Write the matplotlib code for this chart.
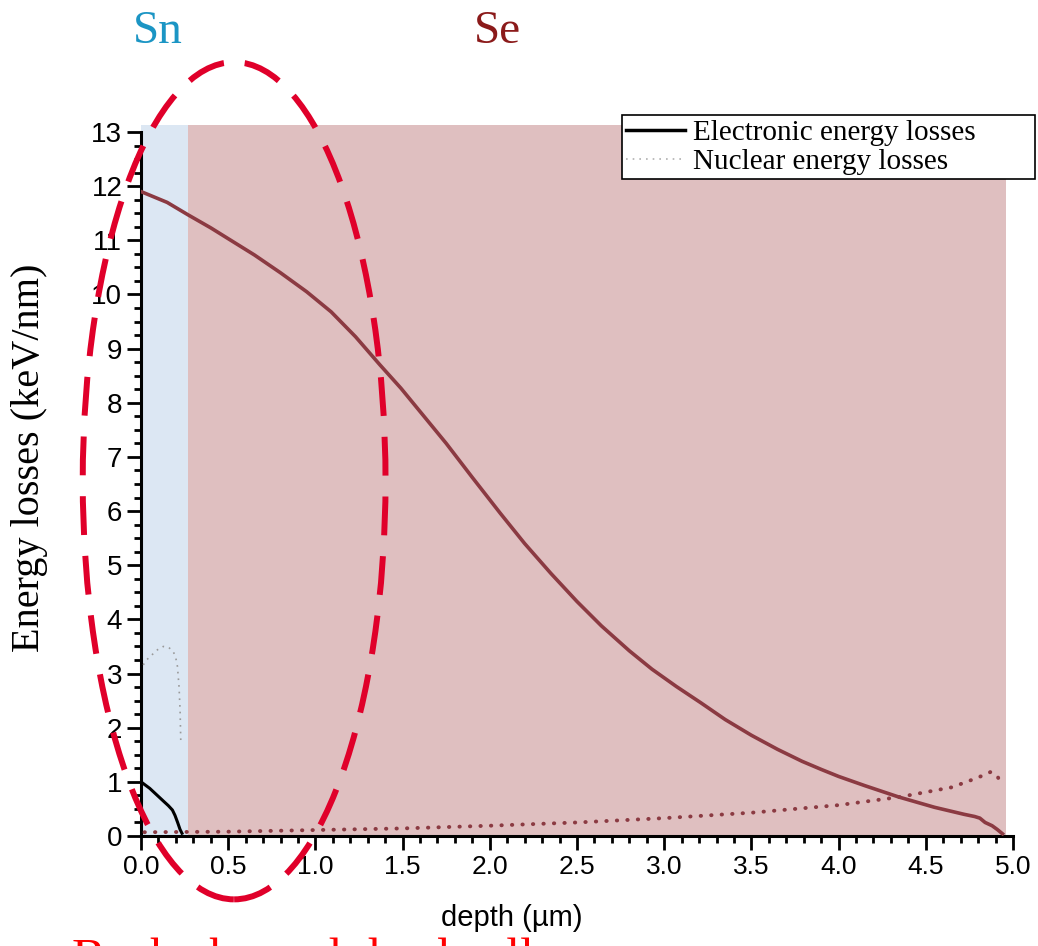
import matplotlib
matplotlib.use("Agg")
import matplotlib.pyplot as plt
from matplotlib.patches import Ellipse, Rectangle
from matplotlib.lines import Line2D
from matplotlib.ticker import MultipleLocator, FormatStrFormatter

# layer extents (um)
sn_region = (0.0, 0.27)
se_region = (0.27, 4.96)

# Se electronic energy losses
se_elec_x = [0.0, 0.15, 0.27, 0.4, 0.5, 0.65, 0.8, 0.95, 1.09, 1.23, 1.37, 1.49, 1.62,
             1.75, 1.9, 2.06, 2.2, 2.35, 2.5, 2.64, 2.8, 2.93, 3.07, 3.21, 3.35, 3.5,
             3.65, 3.79, 3.9, 4.0, 4.15, 4.345, 4.55, 4.72, 4.78, 4.81, 4.84, 4.88,
             4.91, 4.94]
se_elec_y = [11.90, 11.70, 11.47, 11.23, 11.03, 10.73, 10.40, 10.05, 9.68, 9.22, 8.70,
             8.27, 7.76, 7.25, 6.62, 5.96, 5.40, 4.85, 4.33, 3.88, 3.42, 3.08, 2.76,
             2.46, 2.15, 1.86, 1.60, 1.38, 1.23, 1.10, 0.93, 0.72, 0.53, 0.40, 0.36,
             0.33, 0.25, 0.19, 0.12, 0.04]

# Se nuclear energy losses
se_nucl_x = [0.02, 0.5, 1.0, 1.5, 2.0, 2.5, 3.0, 3.5, 4.0, 4.35, 4.65, 4.8, 4.87, 4.91, 4.93]
se_nucl_y = [0.07, 0.08, 0.11, 0.14, 0.19, 0.25, 0.33, 0.43, 0.57, 0.72, 0.90, 1.08, 1.18, 1.12, 0.94]

# Sn electronic energy losses
sn_elec_x = [0.0, 0.05, 0.09, 0.13, 0.157, 0.18, 0.195, 0.21, 0.224, 0.235]
sn_elec_y = [1.0, 0.88, 0.76, 0.64, 0.56, 0.48, 0.38, 0.25, 0.12, 0.05]

# Sn nuclear energy losses
sn_nucl_x = [0.013, 0.035, 0.061, 0.095, 0.128, 0.16, 0.186, 0.2, 0.209, 0.218, 0.224, 0.228]
sn_nucl_y = [3.16, 3.26, 3.34, 3.44, 3.50, 3.48, 3.40, 3.28, 3.13, 2.76, 2.33, 1.77]

se_color = "#8b3a42"
serif = ["Liberation Serif", "DejaVu Serif"]
narrow = ["Liberation Sans Narrow", "Liberation Sans", "DejaVu Sans"]

fig = plt.figure(figsize=(10.38, 9.46), dpi=100)
ax = fig.add_axes([141 / 1038, 110 / 946, 872 / 1038, 704 / 946])

# shaded layers (slightly above the top of the axis, like the original)
ax.add_patch(Rectangle((sn_region[0], 0), sn_region[1] - sn_region[0], 13.13,
                       color="#dce7f3", lw=0, clip_on=False, zorder=0))
ax.add_patch(Rectangle((se_region[0], 0), se_region[1] - se_region[0], 13.13,
                       color="#dfbfc0", lw=0, clip_on=False, zorder=0))

ax.plot(se_elec_x, se_elec_y, color=se_color, lw=2.6, zorder=3, solid_joinstyle="round")
ax.plot(se_nucl_x, se_nucl_y, color=se_color, lw=2.8, ls=(0, (0.1, 2.6)),
        dash_capstyle="round", zorder=3)
ax.plot(sn_elec_x, sn_elec_y, color="black", lw=2.2, zorder=3)
ax.plot(sn_nucl_x, sn_nucl_y, color="#9a9a9a", lw=1.2, ls=(0, (1, 3)), zorder=3)

ax.set_xlim(0, 5)
ax.set_ylim(0, 13)
ax.xaxis.set_major_locator(MultipleLocator(0.5))
ax.xaxis.set_minor_locator(MultipleLocator(0.1))
ax.yaxis.set_major_locator(MultipleLocator(1))
ax.yaxis.set_minor_locator(MultipleLocator(0.25))
ax.xaxis.set_major_formatter(FormatStrFormatter("%.1f"))
ax.tick_params(which="major", direction="out", length=10, width=2, labelsize=19)
ax.tick_params(axis="y", which="major", labelsize=20)
ax.tick_params(which="minor", direction="out", length=5, width=2)
for lab in ax.get_xticklabels():
    lab.set_family(narrow)
for lab in ax.get_yticklabels():
    lab.set_family(["Liberation Sans", "DejaVu Sans"])
for side in ["top", "right"]:
    ax.spines[side].set_visible(False)
for side in ["left", "bottom"]:
    ax.spines[side].set_linewidth(2.2)

# red dashed ellipse (highlight)
ax.add_patch(Ellipse((0.534, 6.56), 1.736, 15.46, fill=False, ec="#e0002a", lw=4.3,
                     ls=(0, (6.5, 3.5)), clip_on=False, zorder=5))

handles = [Line2D([], [], color="black", lw=2.5),
           Line2D([], [], color="#b0b0b0", lw=1.2, ls=(0, (1, 3)))]
leg = fig.legend(handles, ["Electronic energy losses", "Nuclear energy losses"],
                 loc="upper left",
                 bbox_to_anchor=(622 / 1038, 1 - 183 / 946, 413 / 1038, 68 / 946),
                 mode="expand",
                 prop={"family": serif, "size": 21}, frameon=True, fancybox=False,
                 edgecolor="black", framealpha=1, handlelength=2.0, handletextpad=0.3,
                 borderpad=0.15, labelspacing=0.1, borderaxespad=0)
leg.get_frame().set_linewidth(1.2)

fig.text(158 / 1038, 1 - 32 / 946, "Sn", color="#1b95c4", family=serif, fontsize=34,
         ha="center", va="center")
fig.text(497 / 1038, 1 - 32 / 946, "Se", color="#8b1a1a", family=serif, fontsize=34,
         ha="center", va="center")
fig.text(30 / 1038, 1 - 458 / 946, "Energy losses (keV/nm)", family=serif, fontsize=29,
         rotation=90, ha="center", va="center")
fig.text(512 / 1038, 1 - 918 / 946, "depth (µm)", family=narrow, fontsize=21,
         ha="center", va="center")
fig.text(72 / 1038, 1 - 938 / 946, "Back channel dead cell", color="red", family=serif,
         fontsize=36, ha="left", va="top")

fig.savefig("out.png", dpi=100)
